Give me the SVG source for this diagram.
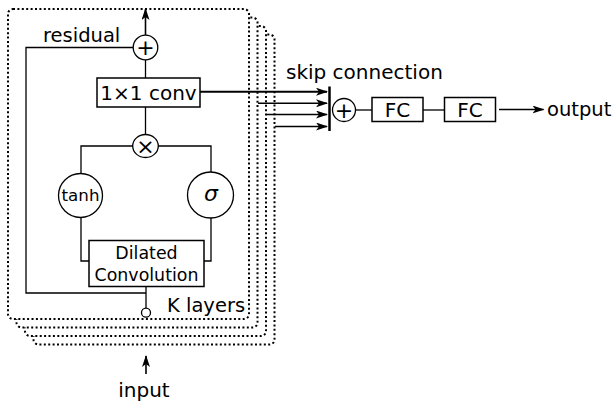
<svg xmlns="http://www.w3.org/2000/svg" width="615" height="405" viewBox="0 0 615 405">
<style>
text{font-family:"DejaVu Sans","Noto Sans CJK JP",sans-serif;fill:#000}
.frame{fill:#fff;stroke:#000;stroke-width:2;stroke-dasharray:2 2.4}
.ln{fill:none;stroke:#000;stroke-width:1.3}
.box{fill:#fff;stroke:#000;stroke-width:1.5}
.circ{fill:#fff;stroke:#000;stroke-width:1.3}
.op{font-size:22px;text-anchor:middle}
.arr{fill:none;stroke:#000;stroke-width:1.6;marker-end:url(#ah)}
</style>
<defs>
<marker id="ah" viewBox="0 0 12 8" refX="11" refY="4" markerWidth="12" markerHeight="8" markerUnits="userSpaceOnUse" orient="auto">
<path d="M0,0 L12,4 L0,8 L3,4 Z" fill="#000"/>
</marker>
</defs>
<g id="frames">
<rect class="frame" x="33.5" y="34.5" width="241" height="310" rx="5"/>
<rect class="frame" x="25" y="26" width="241" height="310" rx="5"/>
<rect class="frame" x="16.5" y="17.5" width="241" height="310" rx="5"/>
<rect class="frame" x="8" y="9" width="241" height="310" rx="5"/>
</g>
<g id="connectors">
<line class="arr" x1="145.5" y1="35" x2="145.5" y2="9"/>
<polyline class="ln" points="133,47.5 26,47.5 26,293 146,293"/>
<line class="ln" x1="145.5" y1="60" x2="145.5" y2="78"/>
<line class="ln" x1="145.5" y1="107" x2="145.5" y2="135"/>
<polyline class="ln" points="133,146 81,146 81,174"/>
<polyline class="ln" points="158,146 211,146 211,173"/>
<polyline class="ln" points="81,217 81,261 89,261"/>
<polyline class="ln" points="211,217 211,261 204,261"/>
<line class="ln" x1="146" y1="287" x2="146" y2="308"/>
<line class="arr" x1="146" y1="374" x2="146" y2="356"/>
<line class="arr" x1="200" y1="91.7" x2="327" y2="91.7" style="stroke-width:2"/>
<line class="arr" x1="258" y1="103.3" x2="327" y2="103.3"/>
<line class="arr" x1="266.5" y1="114.5" x2="327" y2="114.5"/>
<line class="arr" x1="275" y1="126.5" x2="327" y2="126.5"/>
<line x1="329.5" y1="86.5" x2="329.5" y2="131" stroke="#000" stroke-width="2.5"/>
<line class="ln" x1="355" y1="110" x2="372" y2="110"/>
<line class="ln" x1="423" y1="110" x2="444.5" y2="110"/>
<line class="arr" x1="499" y1="109.5" x2="543.5" y2="109.5"/>
</g>
<g id="residual-add">
<circle class="circ" cx="145.5" cy="47.5" r="12.3"/>
<text class="op" x="145.5" y="55.3">+</text>
</g>
<text x="43" y="41.7" font-size="19.5">residual</text>
<g id="conv1x1">
<rect class="box" x="97" y="78" width="103" height="29"/>
<text x="148.5" y="100" font-size="20" text-anchor="middle">1×1 conv</text>
</g>
<g id="multiply">
<ellipse class="circ" cx="145.5" cy="146" rx="12.8" ry="11.5"/>
<text class="op" x="145.5" y="153.6">×</text>
</g>
<g id="tanh">
<circle class="circ" cx="80.5" cy="195.5" r="22"/>
<text x="80.5" y="201" font-size="16.7" text-anchor="middle">tanh</text>
</g>
<g id="sigma">
<circle class="circ" cx="210.5" cy="195" r="23"/>
<text x="211" y="201" font-size="22" font-style="italic" text-anchor="middle">σ</text>
</g>
<g id="dilated">
<rect class="box" x="89" y="240.5" width="115" height="46"/>
<text x="146.5" y="258.5" font-size="17.4" text-anchor="middle">Dilated</text>
<text x="146.5" y="280.5" font-size="17.4" text-anchor="middle">Convolution</text>
</g>
<g id="input-node">
<circle class="circ" cx="146" cy="312.7" r="4.5"/>
</g>
<text x="167" y="312" font-size="19.5">K layers</text>
<text x="144" y="397" font-size="20" text-anchor="middle">input</text>
<text x="286" y="79" font-size="20">skip connection</text>
<g id="skip-add">
<circle class="circ" cx="344" cy="110" r="11.5"/>
<text class="op" x="344" y="117.7">+</text>
</g>
<g id="fc1">
<rect class="box" x="372" y="97.5" width="51" height="24"/>
<text x="397.5" y="116.5" font-size="20" text-anchor="middle">FC</text>
</g>
<g id="fc2">
<rect class="box" x="444.5" y="97.5" width="51" height="24"/>
<text x="470" y="116.5" font-size="20" text-anchor="middle">FC</text>
</g>
<text x="547" y="115.5" font-size="19.5">output</text>
</svg>
